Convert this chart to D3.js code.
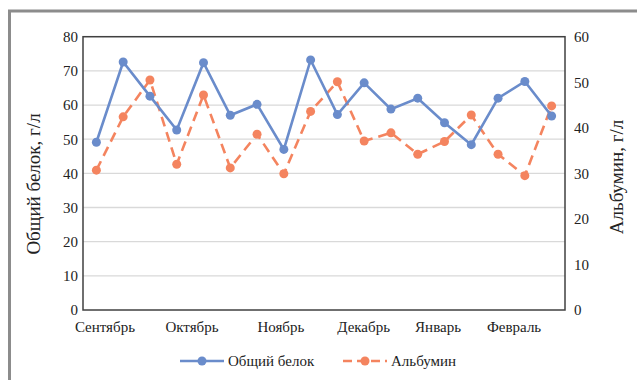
<!DOCTYPE html>
<html><head><meta charset="utf-8">
<script src="https://cdn.jsdelivr.net/npm/d3@7"></script>
<style>html,body{margin:0;padding:0;background:#fff;}svg{display:block;}</style>
</head><body>
<svg id="c" width="637" height="380"></svg>
<script>
const categories = d3.range(18);
const totalProtein = [49.1,72.6,62.6,52.7,72.4,57.0,60.2,47.0,73.2,57.2,66.5,58.8,62.0,54.8,48.4,62.0,66.9,56.8];
const albumin = [30.7,42.4,50.5,32.0,47.2,31.2,38.6,29.9,43.6,50.1,37.1,38.9,34.2,37.0,42.8,34.2,29.5,44.8];
const monthLabels = ["Сентябрь","Октябрь","Ноябрь","Декабрь","Январь","Февраль"];
const monthPos = [0.32,3.57,6.89,9.98,12.76,15.6];
const leftTicks = [0,10,20,30,40,50,60,70,80];
const rightTicks = [0,10,20,30,40,50,60];
const seriesNames = ["Общий белок","Альбумин"];

const svg = d3.select("#c");
const font = "'Liberation Serif','Times New Roman',serif";
const L = 83, R = 565, T = 36.7, B = 310;
const step = (R - L) / categories.length;
const x = d3.scaleLinear().domain([0, 17]).range([L + step/2, R - step/2]);
const yL = d3.scaleLinear().domain([0, 80]).range([B, T]);
const yR = d3.scaleLinear().domain([0, 60]).range([B, T]);
const blue = "#6a8ccb", orange = "#f4845f";

svg.append("path").attr("d", "M9.5,380 L9.5,11 L637,11").attr("fill","none").attr("stroke","#8c8c8c").attr("stroke-width",3);

svg.append("g").selectAll("line").data(leftTicks.slice(1)).join("line")
  .attr("x1", L).attr("x2", R).attr("y1", d => yL(d)).attr("y2", d => yL(d))
  .attr("stroke", "#d9d9d9").attr("stroke-width", 1.3);

svg.append("rect").attr("x", L).attr("y", T).attr("width", R-L).attr("height", B-T)
  .attr("fill","none").attr("stroke","#404040").attr("stroke-width",1.5);

const gl = svg.append("g").attr("transform", `translate(${L},0)`)
  .call(d3.axisLeft(yL).tickValues(leftTicks).tickSize(0).tickPadding(5));
gl.select(".domain").remove();
gl.selectAll("text").attr("font-family", font).attr("font-size", 15).attr("fill","#222");

const gr = svg.append("g").attr("transform", `translate(${R},0)`)
  .call(d3.axisRight(yR).tickValues(rightTicks).tickSize(0).tickPadding(9));
gr.select(".domain").remove();
gr.selectAll("text").attr("font-family", font).attr("font-size", 15).attr("fill","#222");

svg.append("g").selectAll("text").data(monthLabels).join("text")
  .attr("x", (d,i) => x(monthPos[i])).attr("y", 332)
  .attr("text-anchor","middle").attr("font-family", font).attr("font-size", 15).attr("fill","#222")
  .text(d => d);

svg.append("text").attr("transform", `translate(40,184) rotate(-90)`)
  .attr("text-anchor","middle").attr("font-family", font).attr("font-size", 19).attr("fill","#222")
  .text("Общий белок, г/л");
svg.append("text").attr("transform", `translate(623,177) rotate(-90)`)
  .attr("text-anchor","middle").attr("font-family", font).attr("font-size", 19).attr("fill","#222")
  .text("Альбумин, г/л");

const lineL = d3.line().x((d,i) => x(i)).y(d => yL(d));
const lineR = d3.line().x((d,i) => x(i)).y(d => yR(d));
svg.append("path").datum(albumin).attr("d", lineR).attr("fill","none")
  .attr("stroke", orange).attr("stroke-width", 2.6).attr("stroke-dasharray","10,6");
svg.append("g").selectAll("circle").data(albumin).join("circle")
  .attr("cx",(d,i)=>x(i)).attr("cy", d=>yR(d)).attr("r",4.5).attr("fill",orange);
svg.append("path").datum(totalProtein).attr("d", lineL).attr("fill","none")
  .attr("stroke", blue).attr("stroke-width", 2.6);
svg.append("g").selectAll("circle").data(totalProtein).join("circle")
  .attr("cx",(d,i)=>x(i)).attr("cy", d=>yL(d)).attr("r",4.5).attr("fill",blue);

const lg = svg.append("g");
const items = [{name: seriesNames[0], c: blue, dash: null, x0: 180},
               {name: seriesNames[1], c: orange, dash: "9,5", x0: 343}];
items.forEach(it => {
  lg.append("line").attr("x1", it.x0).attr("x2", it.x0+44).attr("y1", 361).attr("y2", 361)
    .attr("stroke", it.c).attr("stroke-width", 2.6).attr("stroke-dasharray", it.dash);
  lg.append("circle").attr("cx", it.x0+22).attr("cy", 361).attr("r", 4.5).attr("fill", it.c);
  lg.append("text").attr("x", it.x0+48).attr("y", 366).attr("font-family", font).attr("font-size", 15)
    .attr("fill","#222").text(it.name);
});
</script>
</body></html>
